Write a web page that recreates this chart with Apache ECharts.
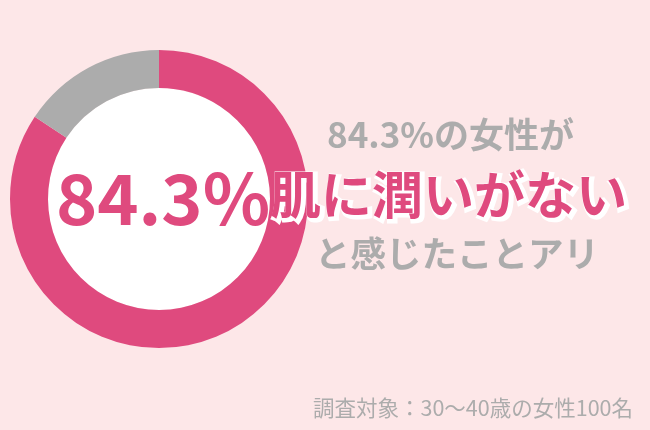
<!DOCTYPE html>
<html>
<head>
<meta charset="utf-8">
<script src="https://cdn.jsdelivr.net/npm/echarts@6/dist/echarts.min.js"></script>
<style>
  html, body { margin: 0; padding: 0; background: #fde7e8; }
  #donut { width: 650px; height: 430px; }
</style>
</head>
<body>
<div id="donut"></div>
<script>
// Data
var sliceNames = ['ある', 'ない'];
var sliceValues = [84.3, 15.7];
var headLine = '84.3%の女性が';
var mainLine = '肌に潤いがない';
var tailLine = 'と感じたことアリ';
var noteLine = '調査対象：30〜40歳の女性100名';

var pink = '#df4a7e';
var grey = '#acacac';
var font = '"Noto Sans CJK JP", "Noto Sans", sans-serif';

var donut = echarts.init(document.getElementById('donut'));

donut.setOption({
    backgroundColor: '#fde7e8',
    animation: false,

    series: [
        // white centre
        {
            type: 'pie',
            silent: true,
            radius: [0, 111],
            center: [159, 199],
            label: { show: false },
            itemStyle: { color: '#fff' },
            data: [{ value: 1, name: 'centre' }]
        },
        // ring
        {
            type: 'pie',
            silent: true,
            radius: [111, 149],
            center: [159, 199],
            startAngle: 90,
            clockwise: true,
            label: { show: false },
            labelLine: { show: false },
            data: sliceNames.map(function (n, i) {
                return {
                    name: n,
                    value: sliceValues[i],
                    itemStyle: { color: i === 0 ? pink : grey }
                };
            })
        }
    ],

    graphic: [
        {
            type: 'text', z: 100,
            left: 160 - 104, top: 203 - 40,
            style: {
                text: sliceValues[0].toFixed(1) + '%',
                fill: pink,
                font: 'bold 70px ' + font
            }
        },
        {
            type: 'text', z: 100,
            left: 327, top: 137 - 20,
            style: { text: headLine, fill: grey, font: 'bold 35px ' + font }
        },
        // white outline behind the main line
        {
            type: 'text', z: 100,
            left: 270, top: 198 - 29,
            style: {
                text: mainLine, fill: '#fff', font: 'bold 51px ' + font,
                stroke: '#fff', lineWidth: 5
            }
        },
        {
            type: 'text', z: 101,
            left: 270, top: 198 - 29,
            style: { text: mainLine, fill: pink, font: 'bold 51px ' + font }
        },
        {
            type: 'text', z: 100,
            left: 315, top: 257 - 21,
            style: { text: tailLine, fill: grey, font: 'bold 35.5px ' + font }
        },
        {
            type: 'text', z: 100,
            right: 17, top: 410 - 13,
            style: { text: noteLine, fill: grey, font: '21.5px ' + font }
        }
    ]
});
</script>
</body>
</html>
